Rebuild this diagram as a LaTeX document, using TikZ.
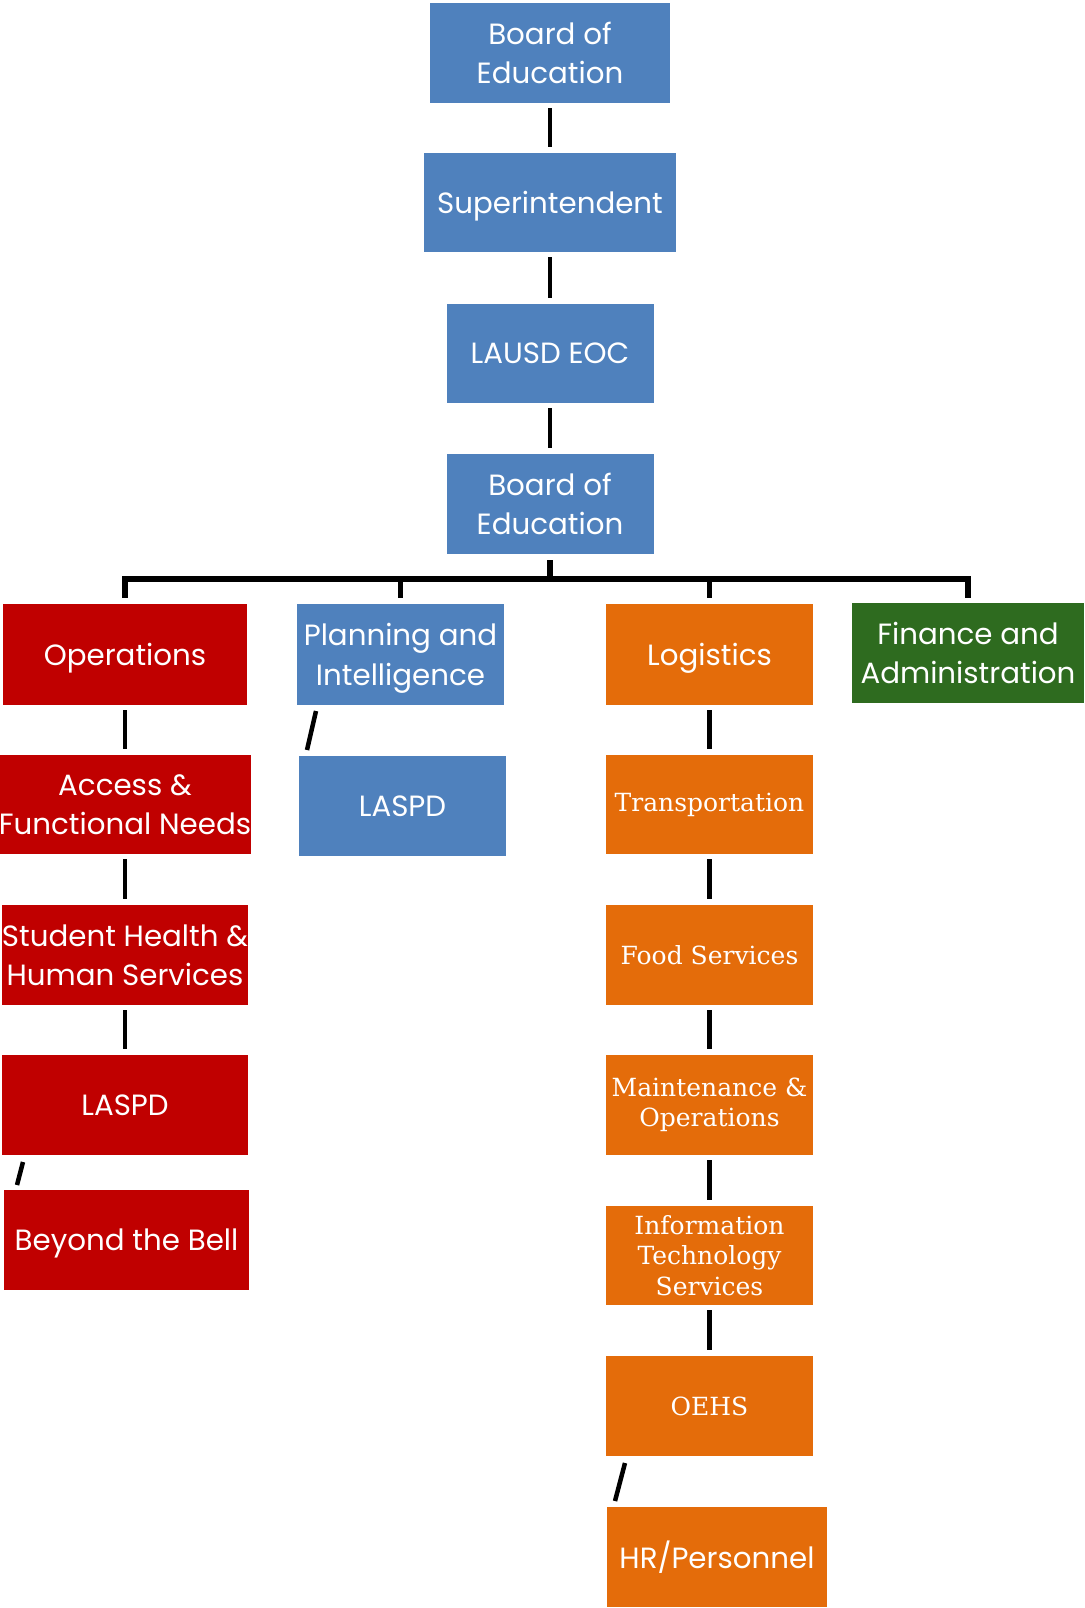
\documentclass[tikz,border=0pt]{standalone}
\usepackage{fontspec}
\setmainfont{Poppins}
\newfontfamily\serifo{DejaVu Serif}
\usetikzlibrary{calc}
\definecolor{cblue}{HTML}{4F81BD}
\definecolor{cred}{HTML}{C00000}
\definecolor{corange}{HTML}{E46C0A}
\definecolor{cgreen}{HTML}{2E6B1F}
\begin{document}
\begin{tikzpicture}[x=1pt,y=-1pt,
  box/.style={rectangle, inner sep=0pt, text=white, align=center,
    font=\fontsize{29.3}{39.5}\selectfont, minimum height=100pt, minimum width=207pt},
  nodepth/.style={text depth=0pt},
  bluebox/.style={box, nodepth, fill=cblue},
  redbox/.style={box, nodepth, fill=cred, minimum width=244pt},
  greenbox/.style={box, nodepth, fill=cgreen, minimum width=232pt},
  orangebox/.style={box, fill=corange, font=\serifo\fontsize{25}{30.5}\selectfont},
  link/.style={line width=4.5pt, line cap=butt, black},
  buslink/.style={link, line width=5.5pt},
  vlink/.style={link, shorten <=5pt, shorten >=6pt}
]
\useasboundingbox (0,0) rectangle (1084,1608);

% top column
\node[bluebox, minimum width=240pt] (b1) at (550,53) {Board of\\Education};
\node[bluebox, minimum width=252pt, minimum height=99pt] (sup) at (550,202.5) {Superintendent};
\node[bluebox, minimum height=99pt] (eoc) at (550,353.5) {LAUSD EOC};
\node[bluebox] (b2) at (550,504) {Board of\\Education};

% sections
\node[redbox, minimum height=101pt] (ops) at (125,654.5) {Operations};
\node[bluebox, minimum height=101pt] (plan) at (400.5,654.5) {Planning and\\Intelligence};
\node[box, nodepth, fill=corange, minimum height=101pt] (log) at (709.5,654.5) {Logistics};
\node[greenbox] (fin) at (968,653) {Finance and\\Administration};

% operations column
\node[redbox, minimum width=251pt, minimum height=99pt] (afn) at (125,804.5) {Access \&\\Functional Needs};
\node[redbox] (shs) at (125,955) {Student Health \&\\Human Services};
\node[redbox, minimum width=246pt] (laspdA) at (125,1105) {LASPD};
\node[redbox, minimum width=245pt] (btb) at (126.5,1240) {Beyond the Bell};

% planning column
\node[bluebox] (laspdB) at (402.5,806) {LASPD};

% logistics column
\node[orangebox, minimum height=99pt] (trans) at (709.5,804.5) {Transportation};
\node[orangebox] (food) at (709.5,955) {Food Services};
\node[orangebox] (mo) at (709.5,1105) {Maintenance \&\\Operations};
\node[orangebox, minimum height=99pt] (its) at (709.5,1255.5) {Information\\Technology\\Services};
\node[orangebox] (oehs) at (709.5,1406) {OEHS};
\node[box, fill=corange, minimum width=220pt] (hr) at (717,1557) {HR/Personnel};

% vertical connectors
\draw[vlink] (b1) -- (sup);
\draw[vlink] (sup) -- (eoc);
\draw[vlink] (eoc) -- (b2);
\draw[vlink] (ops) -- (afn);
\draw[vlink] (afn) -- (shs);
\draw[vlink] (shs) -- (laspdA);
\draw[vlink] (log) -- (trans);
\draw[vlink] (trans) -- (food);
\draw[vlink] (food) -- (mo);
\draw[vlink] (mo) -- (its);
\draw[vlink] (its) -- (oehs);

% bus
\coordinate (bus) at (550,579);
\draw[buslink] ($(b2.south)+(0,6)$) -- (b2.south |- bus);
\draw[buslink, line join=miter] ($(ops.north)+(0,-6)$) -- (ops.north |- bus)
  -- (fin.north |- bus) -- ($(fin.north)+(0,-5)$);
\draw[buslink] (plan.north |- bus) -- ($(plan.north)+(0,-6)$);
\draw[buslink] (log.north |- bus) -- ($(log.north)+(0,-6)$);

% slanted connectors
\coordinate (sAa) at (316,711);
\coordinate (sAb) at (307,750);
\draw[link] (sAa) -- (sAb);
\coordinate (sBa) at (23,1162);
\coordinate (sBb) at (17,1185);
\draw[link] (sBa) -- (sBb);
\coordinate (sCa) at (625,1463);
\coordinate (sCb) at (615,1501);
\draw[link] (sCa) -- (sCb);
\end{tikzpicture}
\end{document}
